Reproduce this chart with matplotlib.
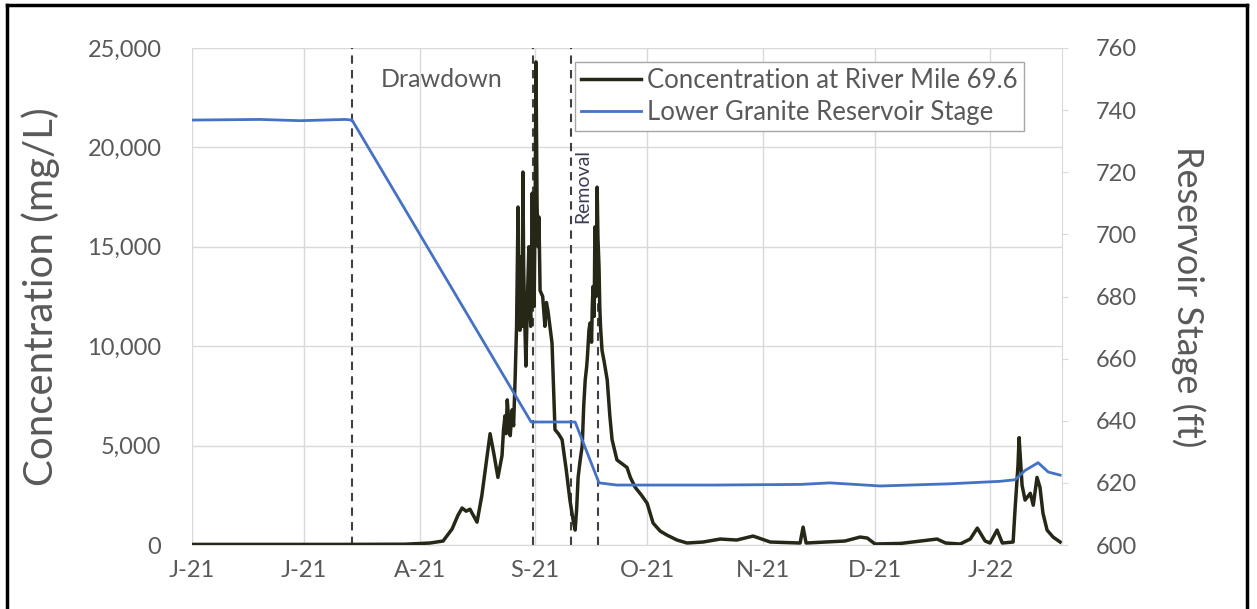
import numpy as np
import pandas as pd
import matplotlib
matplotlib.use("Agg")
import matplotlib.pyplot as plt
from matplotlib.lines import Line2D
from matplotlib.ticker import FuncFormatter

plt.rcParams['font.family'] = ['Lato', 'DejaVu Sans']

START = pd.Timestamp("2021-06-01")

# concentration at river mile 69.6 (days since 2021-06-01, mg/L)
conc_day = [0, 20, 40, 57.1, 63.8, 67.3, 69.7, 71.3, 72.4, 73.5, 74.5, 76.4, 77.7,
            79.1, 79.9, 81.0, 82.0, 83.1, 83.5, 83.9, 84.2, 84.5, 85.0, 85.3, 85.8,
            86.2, 86.6, 87.0, 87.2, 87.4, 87.6, 87.9, 88.1, 88.3, 88.5, 88.7, 88.9,
            89.1, 89.3, 89.5, 89.8, 90.0, 90.3, 90.6, 90.8, 91.0, 91.2, 91.5, 91.7,
            92.0, 92.2, 92.4, 92.5, 92.8, 93.0, 93.3, 94.0, 94.6, 95.0, 95.4, 96.0,
            96.5, 97.3, 98.2, 99.2, 100.3, 101.3, 102.2, 102.7, 103.1, 103.5, 104.0,
            104.6, 105.0, 105.4, 105.8, 106.0, 106.4, 106.7, 107.1, 107.3, 107.5,
            107.8, 108.0, 108.2, 108.3, 108.6, 108.8, 109.1, 109.3, 109.5, 109.9,
            110.5, 111.3, 112.0, 112.6, 113.9, 115.2, 116.6, 117.5, 118.8, 120.5,
            122.0, 123.6, 125.5, 127.3, 130.0, 132.7, 137.0, 141.6, 146.0, 150.4,
            155.0, 160.0, 163.0, 163.8, 164.6, 170.0, 175.0, 179.1, 181.0, 183.1,
            190.0, 199.7, 202.0, 205.9, 208.6, 210.5, 212.6, 213.9, 215.8, 217.2,
            220.1, 220.6, 221.4, 221.7, 222.5, 223.3, 224.7, 225.5, 226.5, 227.3,
            228.1, 229.2, 230.8, 232.7]
conc_val = [30, 30, 30, 40, 100, 200, 800, 1500, 1860, 1700, 1800, 1150, 2500,
            4500, 5600, 4500, 3400, 4500, 5800, 6500, 5600, 7300, 6000, 5500, 6800,
            6000, 8300, 11000, 14000, 17000, 12500, 10800, 13500, 14500, 11000, 18760, 14000,
            12000, 10500, 9000, 11500, 13000, 15000, 12000, 11000, 14500, 17700, 13000, 12000,
            17500, 24300, 19500, 17000, 15000, 16500, 12800, 12500, 11000, 12200, 11800, 10900,
            10160, 5800, 5600, 5300, 3800, 2260, 1200, 750, 1800, 3400, 4200,
            5000, 7000, 8300, 9000, 9500, 10800, 11170, 10200, 12000, 13000,
            11500, 16000, 13500, 12500, 18000, 15500, 14000, 12000, 11000, 9800,
            9200, 8300, 6500, 5300, 4280, 4100, 3900, 3400, 2900, 2500,
            2100, 1100, 700, 500, 250, 100, 150, 300, 250, 450,
            150, 120, 100, 900, 100, 150, 200, 400, 350, 50,
            80, 300, 100, 50, 300, 850, 200, 100, 750, 100,
            150, 1750, 4000, 5400, 3000, 2260, 2600, 2000, 3400, 2900,
            1600, 750, 400, 150]

# Lower Granite reservoir stage (days since 2021-06-01, ft)
stage_day = [0, 18.2, 29.0, 41.0, 42.9, 90.9, 102.7, 109.1, 113.9, 140.0, 163.0,
             171.0, 184.5, 203.0, 216.6, 220.6, 223.3, 226.8, 229.5, 232.7]
stage_val = [736.8, 737.0, 736.6, 737.0, 736.8, 639.6, 639.6, 620.0, 619.3, 619.3, 619.5,
             620.0, 619.0, 619.7, 620.5, 621.0, 624.0, 626.5, 623.5, 622.5]

# event markers (days since 2021-06-01)
event_day = [42.9, 91.4, 101.6, 108.8]
event_top = [25000, 25000, 25000, 17800]

month_ticks = pd.date_range("2021-06-01", "2022-01-01", freq="MS")
month_labels = ["J-21", "J-21", "A-21", "S-21", "O-21", "N-21", "D-21", "J-22"]

to_date = lambda d: START + pd.to_timedelta(np.array(d), unit="D")

fig = plt.figure(figsize=(12.57, 6.09), dpi=100)
ax = fig.add_axes([192 / 1257, 1 - 545 / 609, 870 / 1257, 497 / 609])
ax2 = ax.twinx()

grid_c = "#d9d9d9"
text_c = "#595959"
ax.set_axisbelow(True)
ax.grid(True, color=grid_c, lw=1)

ax.plot(to_date(conc_day), conc_val, color="#272718", lw=2.5,
        label="Concentration at River Mile 69.6", zorder=3)
ax2.plot(to_date(stage_day), stage_val, color="#4472C4", lw=2,
         label="Lower Granite Reservoir Stage")

ax.vlines(to_date(event_day), 0, event_top, colors="#404040", linestyles=(0, (4, 3)),
          lw=1.5, zorder=2)

ax.set_xlim(START, START + pd.Timedelta(days=233.2))
ax.set_ylim(0, 25000)
ax.set_yticks(np.arange(0, 25001, 5000))
ax.yaxis.set_major_formatter(FuncFormatter(lambda v, p: f"{v:,.0f}"))
ax2.set_ylim(600, 760)
ax2.set_yticks(np.arange(600, 761, 20))
ax.set_xticks(month_ticks)
ax.set_xticklabels(month_labels)

for s in ax.spines.values():
    s.set_visible(False)
for s in ax2.spines.values():
    s.set_visible(False)
ax2.spines["right"].set_visible(True)
ax2.spines["right"].set_color(grid_c)
ax.spines["bottom"].set_visible(True)
ax.spines["bottom"].set_color(grid_c)

ax.tick_params(axis="y", length=0, pad=22, labelsize=17, labelcolor=text_c)
ax.tick_params(axis="x", length=0, pad=11, labelsize=17, labelcolor=text_c)
ax2.tick_params(axis="y", length=4, color=grid_c, pad=20, labelsize=17, labelcolor=text_c)

ax.set_ylabel("Concentration (mg/L)", fontsize=29, color=text_c, labelpad=20)
ax2.set_ylabel("Reservoir Stage (ft)", fontsize=26, color=text_c, rotation=-90,
               labelpad=50)

ax.text(START + pd.Timedelta(days=66.8), 23400, "Drawdown", fontsize=18,
        color=text_c, ha="center", va="center")
ax.text(START + pd.Timedelta(days=104.8), 18060, "Removal", fontsize=14,
        color="#3c3c55", rotation=90, ha="center", va="center")

h1, l1 = ax.get_legend_handles_labels()
h2, l2 = ax2.get_legend_handles_labels()
leg = fig.legend(h1 + h2, l1 + l2, loc="upper left",
                 bbox_to_anchor=(575 / 1257, 1 - 62 / 609), fontsize=18.5,
                 frameon=True, fancybox=False, framealpha=1, edgecolor="#a6a6a6",
                 borderpad=0.25, labelspacing=0.25, handlelength=2.3, handletextpad=0.25,
                 borderaxespad=0)
for t in leg.get_texts():
    t.set_color(text_c)
leg.get_frame().set_linewidth(1)

# outer border of the picture
for xs, ys in [((7, 7), (0, 604)), ((7, 1247), (604, 604)), ((1247, 1247), (604, 0))]:
    fig.add_artist(Line2D([x / 1257 for x in xs], [y / 609 for y in ys],
                          color="black", lw=2.5))

fig.savefig("out.png", dpi=100)
